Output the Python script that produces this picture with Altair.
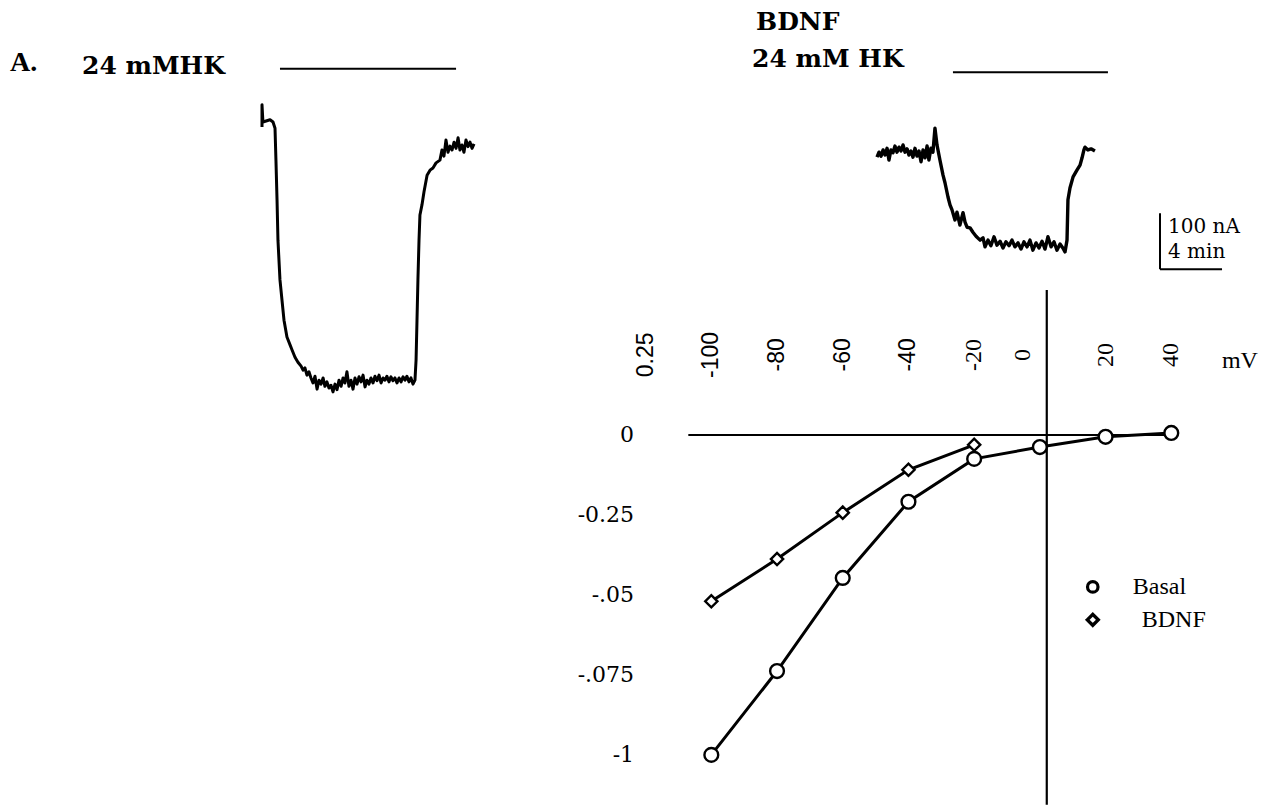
import altair as alt
import pandas as pd

W, H = 1283, 808

# ---------------- current–voltage relation ----------------
iv_mv = [-100, -80, -60, -40, -20, 0, 20, 40]
iv_basal = [-1.0, -0.738, -0.447, -0.209, -0.075, -0.038, -0.006, 0.006]
iv_mv_bdnf = [-100, -80, -60, -40, -20]
iv_bdnf = [-0.52, -0.388, -0.243, -0.109, -0.031]

x_tick_text = ["0.25", "-100", "-80", "-60", "-40", "-20", "0", "20", "40"]
x_tick_at = [-120, -100, -80, -60, -40, -20, -5, 20, 40]
x_tick_sans = [True, True, True, True, True, False, False, False, False]
y_tick_text = ["0", "-0.25", "-.05", "-.075", "-1"]
y_tick_at = [0, -0.25, -0.5, -0.75, -1]

# ---------------- current traces (time in min, current in nA) ----------------
left_t = [0.00, 0.00, 0.06, 0.52, 0.71, 0.84, 0.90, 0.97, 1.03, 1.16, 1.29, 1.42, 1.61, 1.81,
          1.94, 2.13, 2.32, 2.52, 2.65, 2.77, 2.90, 3.03, 3.16, 3.29, 3.42, 3.55, 3.68, 3.81,
          3.94, 4.06, 4.19, 4.32, 4.45, 4.58, 4.71, 4.84, 4.97, 5.10, 5.23, 5.35, 5.48, 5.61,
          5.74, 5.87, 6.00, 6.13, 6.26, 6.39, 6.52, 6.65, 6.77, 6.90, 7.03, 7.16, 7.29, 7.42,
          7.55, 7.68, 7.81, 7.94, 8.06, 8.19, 8.32, 8.45, 8.58, 8.71, 8.84, 8.97, 9.10, 9.23,
          9.35, 9.48, 9.61, 9.74, 9.87, 9.94, 10.00, 10.06, 10.13, 10.19, 10.32, 10.45, 10.65,
          10.84, 11.03, 11.23, 11.48, 11.61, 11.74, 11.87, 12.00, 12.13, 12.26, 12.39, 12.52,
          12.65, 12.77, 12.90, 13.03, 13.16, 13.29, 13.42, 13.55, 13.68]
left_i = [-9, 31, 0, 4, 0, -11, -68, -139, -211, -282, -318, -354, -384, -398,
          -407, -420, -429, -436, -443, -439, -452, -446, -457, -466, -454, -477, -461, -468,
          -457, -472, -464, -475, -470, -482, -468, -478, -461, -472, -457, -466, -446, -472,
          -461, -477, -457, -468, -455, -464, -452, -473, -461, -468, -457, -466, -454, -462,
          -452, -466, -457, -461, -454, -464, -455, -462, -457, -466, -457, -464, -455, -461,
          -454, -464, -457, -468, -461, -425, -354, -282, -211, -166, -148, -125, -95,
          -86, -82, -73, -68, -50, -61, -32, -54, -43, -50, -36, -47,
          -28, -50, -41, -54, -32, -44, -36, -47, -39]

right_t = [0.00, 0.13, 0.26, 0.39, 0.52, 0.65, 0.77, 0.90, 1.03, 1.16, 1.29, 1.42, 1.55, 1.68,
           1.81, 1.94, 2.06, 2.19, 2.32, 2.45, 2.58, 2.71, 2.84, 2.97, 3.10, 3.23, 3.35, 3.48,
           3.61, 3.74, 3.87, 4.06, 4.26, 4.39, 4.58, 4.71, 4.84, 5.03, 5.16, 5.35, 5.55, 5.68,
           5.81, 6.00, 6.19, 6.39, 6.65, 6.84, 6.97, 7.16, 7.35, 7.55, 7.74, 7.94, 8.13, 8.32,
           8.52, 8.71, 8.90, 9.10, 9.29, 9.48, 9.68, 9.87, 10.06, 10.26, 10.45, 10.65, 10.84,
           11.03, 11.23, 11.42, 11.61, 11.81, 11.99, 12.13, 12.26, 12.32, 12.45, 12.65, 12.90,
           13.10, 13.23, 13.35, 13.42, 13.61, 13.81, 14.06]
right_i = [-4, 5, -2, 9, 0, 12, -9, 9, 4, 16, 5, 14, 7, 18,
           5, 11, 0, 7, -4, 12, -2, 7, -12, 9, -5, 16, -9, 12,
           5, 48, 18, -9, -36, -50, -75, -89, -98, -116, -102, -125, -103, -120,
           -129, -130, -138, -145, -152, -148, -164, -152, -162, -146, -161, -154, -166, -155,
           -162, -152, -164, -157, -168, -155, -164, -152, -170, -157, -166, -154, -168,
           -146, -164, -155, -170, -159, -166, -173, -152, -80, -59, -39, -27,
           -18, -5, 9, 14, 9, 11, 7]

# 24 mM HK application bars (min) and their drawing level (nA)
hk_left = [1.16, 12.52]
hk_left_level = 95
hk_right = [4.90, 14.90]
hk_right_level = 148

# calibration bar: 100 nA, 4 min
cal_t = [18.26, 22.26]
cal_i = [-104, -204]
cal_text_i = [-139, -184]

SERIF = "Liberation Serif"

# ---------------- scales ----------------
iv_x = alt.Scale(domain=[-316.5, 74.0], nice=False, zero=False)
iv_y = alt.Scale(domain=[-1.166, 1.359], nice=False, zero=False)
lt_x = alt.Scale(domain=[-16.903, 65.871], nice=False, zero=False)
lt_y = alt.Scale(domain=[-1225.0, 217.9], nice=False, zero=False)
rt_x = alt.Scale(domain=[-56.581, 26.194], nice=False, zero=False)
rt_y = alt.Scale(domain=[-1166.1, 276.8], nice=False, zero=False)


def X(field, scale):
    return alt.X(field, type="quantitative", scale=scale, axis=None)


def Y(field, scale):
    return alt.Y(field, type="quantitative", scale=scale, axis=None)


# ---------------- I–V panel ----------------
basal_df = pd.DataFrame({"mv": iv_mv, "i": iv_basal})
bdnf_df = pd.DataFrame({"mv": iv_mv_bdnf, "i": iv_bdnf})

x_axis_df = pd.DataFrame({"mv": [-107], "mv2": [40], "i": [0]})
y_axis_df = pd.DataFrame({"mv": [2.1], "i": [0.453], "i2": [-1.156]})

x_axis = alt.Chart(x_axis_df).mark_rule(color="black", strokeWidth=2).encode(
    x=X("mv", iv_x), x2="mv2", y=Y("i", iv_y))
y_axis = alt.Chart(y_axis_df).mark_rule(color="black", strokeWidth=2.2).encode(
    x=X("mv", iv_x), y=Y("i", iv_y), y2="i2")

basal_line = alt.Chart(basal_df).mark_line(color="black", strokeWidth=3).encode(
    x=X("mv", iv_x), y=Y("i", iv_y))
bdnf_line = alt.Chart(bdnf_df).mark_line(color="black", strokeWidth=3).encode(
    x=X("mv", iv_x), y=Y("i", iv_y))
basal_pts = alt.Chart(basal_df).mark_point(
    shape="circle", size=190, filled=True, fill="white", stroke="black", strokeWidth=2.4, opacity=1
).encode(x=X("mv", iv_x), y=Y("i", iv_y))
bdnf_pts = alt.Chart(bdnf_df).mark_point(
    shape="diamond", size=150, filled=True, fill="white", stroke="black", strokeWidth=2.4, opacity=1
).encode(x=X("mv", iv_x), y=Y("i", iv_y))

xt_df = pd.DataFrame({"mv": x_tick_at, "t": x_tick_text, "sans": x_tick_sans,
                      "i": [0.25] * len(x_tick_at)})
x_ticks_sans = alt.Chart(xt_df[xt_df.sans]).mark_text(
    angle=270, align="center", baseline="middle", font="Liberation Sans", fontSize=23, color="black"
).encode(x=X("mv", iv_x), y=Y("i", iv_y), text="t:N")
x_ticks_serif = alt.Chart(xt_df[~xt_df.sans]).mark_text(
    angle=270, align="center", baseline="middle", font=SERIF, fontSize=24, color="black"
).encode(x=X("mv", iv_x), y=Y("i", iv_y), text="t:N")
mv_label = alt.Chart(pd.DataFrame({"mv": [55.4], "i": [0.232], "t": ["mV"]})).mark_text(
    align="left", baseline="middle", font=SERIF, fontSize=24, color="black"
).encode(x=X("mv", iv_x), y=Y("i", iv_y), text="t:N")

yt_df = pd.DataFrame({"mv": [-123.5] * len(y_tick_at), "i": y_tick_at, "t": y_tick_text})
y_ticks = alt.Chart(yt_df).mark_text(
    align="right", baseline="middle", font="DejaVu Serif", fontSize=22, color="black"
).encode(x=X("mv", iv_x), y=Y("i", iv_y), text="t:N")

leg_df = pd.DataFrame({"mv": [16.1, 16.1], "i": [-0.475, -0.578],
                       "t": ["Basal", "BDNF"], "tx": [28.3, 31.0]})
leg_circle = alt.Chart(leg_df.iloc[[0]]).mark_point(
    shape="circle", size=110, filled=True, fill="white", stroke="black", strokeWidth=3.2, opacity=1
).encode(x=X("mv", iv_x), y=Y("i", iv_y))
leg_diamond = alt.Chart(leg_df.iloc[[1]]).mark_point(
    shape="diamond", size=120, filled=True, fill="white", stroke="black", strokeWidth=3.4, opacity=1
).encode(x=X("mv", iv_x), y=Y("i", iv_y))
leg_text = alt.Chart(leg_df).mark_text(
    align="left", baseline="middle", font=SERIF, fontSize=24, color="black"
).encode(x=X("tx", iv_x), y=Y("i", iv_y), text="t:N")

iv_panel = alt.layer(x_axis, y_axis, basal_line, bdnf_line, basal_pts, bdnf_pts,
                     x_ticks_sans, x_ticks_serif, mv_label, y_ticks,
                     leg_circle, leg_diamond, leg_text)

# ---------------- left trace (basal) ----------------
left_df = pd.DataFrame({"t": left_t, "i": left_i})
left_trace = alt.Chart(left_df).mark_line(color="black", strokeWidth=3, strokeJoin="round").encode(
    x=X("t", lt_x), y=Y("i", lt_y), order="idx:Q"
).transform_window(idx="row_number()")
left_bar = alt.Chart(pd.DataFrame({"t": [hk_left[0]], "t2": [hk_left[1]], "i": [hk_left_level]})).mark_rule(
    color="black", strokeWidth=2).encode(x=X("t", lt_x), x2="t2", y=Y("i", lt_y))
left_panel = alt.layer(left_trace, left_bar)

# ---------------- right trace (BDNF) ----------------
right_df = pd.DataFrame({"t": right_t, "i": right_i})
right_trace = alt.Chart(right_df).mark_line(color="black", strokeWidth=3.4, strokeJoin="round").encode(
    x=X("t", rt_x), y=Y("i", rt_y), order="idx:Q"
).transform_window(idx="row_number()")
right_bar = alt.Chart(pd.DataFrame({"t": [hk_right[0]], "t2": [hk_right[1]], "i": [hk_right_level]})).mark_rule(
    color="black", strokeWidth=2).encode(x=X("t", rt_x), x2="t2", y=Y("i", rt_y))
cal_v = alt.Chart(pd.DataFrame({"t": [cal_t[0]], "i": [cal_i[0]], "i2": [cal_i[1]]})).mark_rule(
    color="black", strokeWidth=2).encode(x=X("t", rt_x), y=Y("i", rt_y), y2="i2")
cal_h = alt.Chart(pd.DataFrame({"t": [cal_t[0]], "t2": [cal_t[1]], "i": [cal_i[1]]})).mark_rule(
    color="black", strokeWidth=2).encode(x=X("t", rt_x), x2="t2", y=Y("i", rt_y))
cal_text = alt.Chart(pd.DataFrame({"t": [cal_t[0], cal_t[0]], "i": cal_text_i,
                                   "s": ["100 nA", "4 min"], "off": [0, 1]})).mark_text(
    align="left", baseline="alphabetic", font="DejaVu Serif", fontSize=20, color="black", dx=8
).encode(x=X("t", rt_x), y=Y("i", rt_y), text="s:N")
right_panel = alt.layer(right_trace, right_bar, cal_v, cal_h, cal_text)

# ---------------- headings ----------------
def heading(s, px, py, size=26, weight="bold", font="DejaVu Serif"):
    return alt.Chart(pd.DataFrame({"s": [s]})).mark_text(
        align="left", baseline="alphabetic", font=font, fontSize=size, fontWeight=weight, color="black"
    ).encode(x=alt.value(px), y=alt.value(py), text="s:N")


headings = alt.layer(
    heading("A.", 10, 71, size=28, font="Liberation Serif"),
    heading("24 mMHK", 82, 74, size=25),
    heading("BDNF", 756, 30, size=25),
    heading("24 mM HK", 752, 67, size=25),
)

chart = alt.layer(iv_panel, left_panel, right_panel, headings).resolve_scale(
    x="independent", y="independent"
).properties(
    width=W, height=H, autosize=alt.AutoSizeParams(type="none"), padding=0,
    background="white"
).configure_view(stroke=None)

chart.save("out.html", embed_options={"renderer": "svg", "actions": False})
